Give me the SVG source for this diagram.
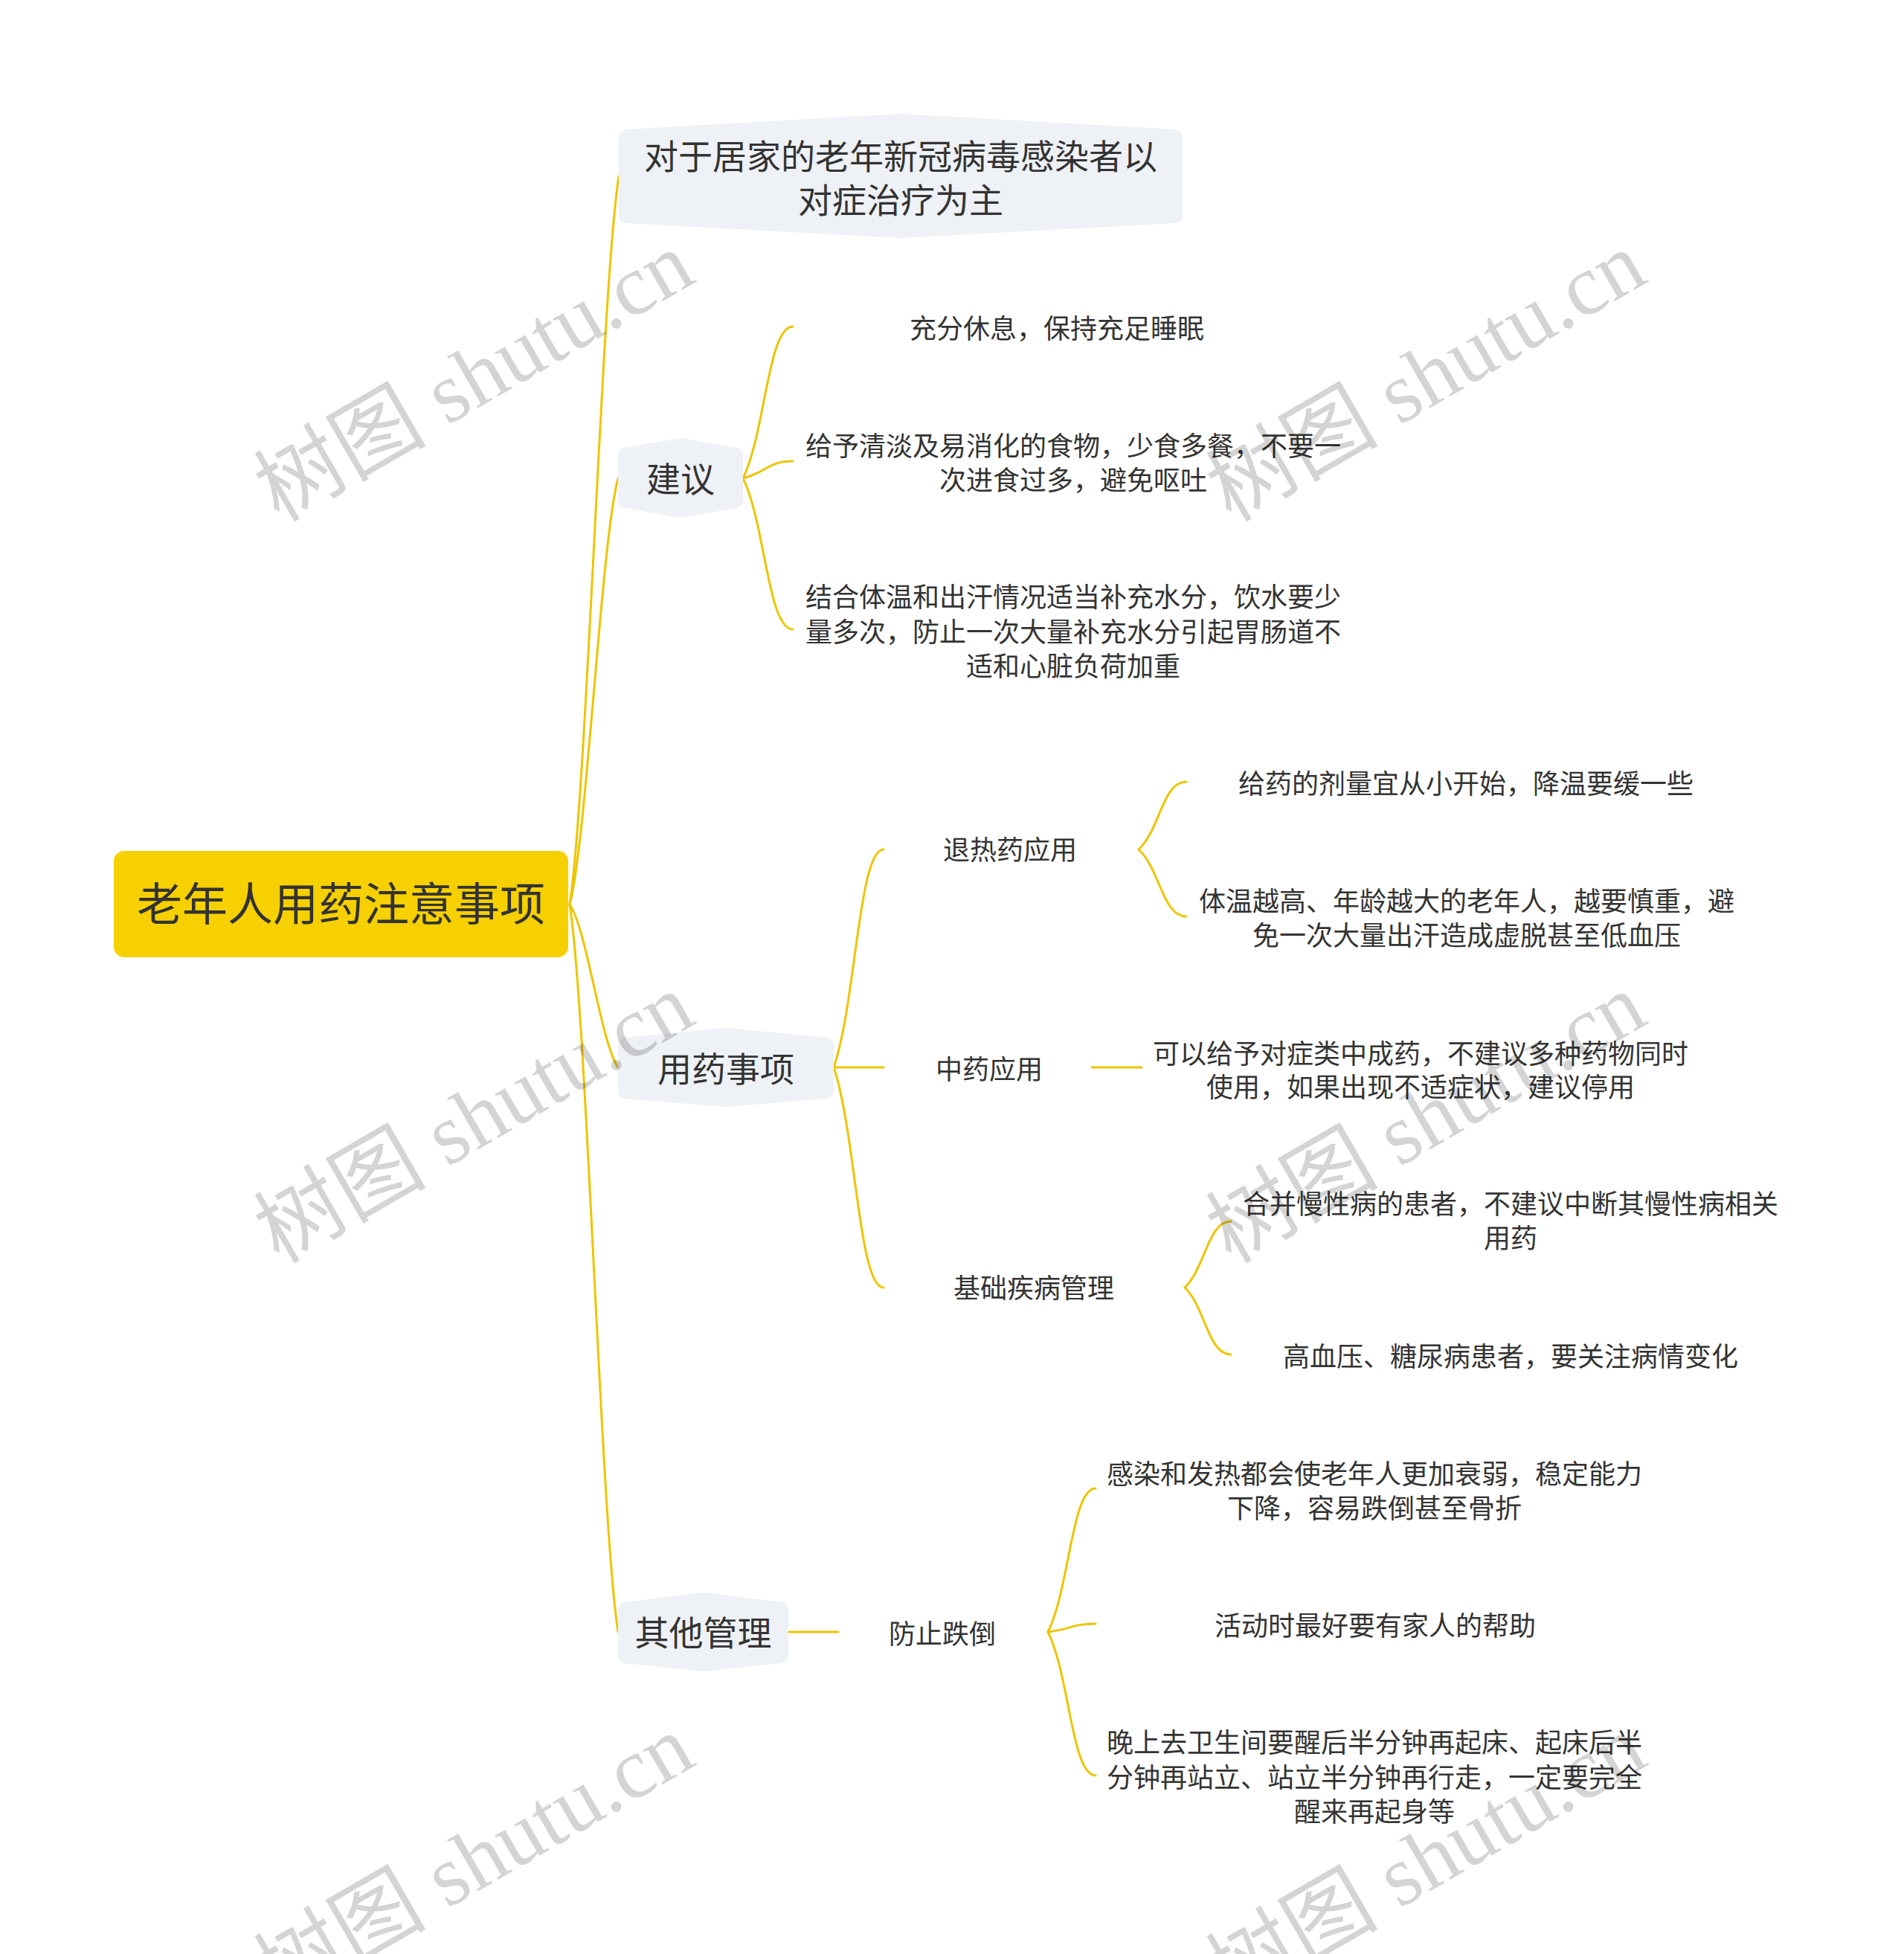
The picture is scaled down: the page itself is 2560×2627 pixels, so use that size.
<svg xmlns="http://www.w3.org/2000/svg" width="2560" height="2627" viewBox="0 0 2560 2627">
<style>
.t{font-family:"Noto Sans CJK SC","Noto Sans",sans-serif;fill:#333333;text-anchor:middle}
.f61{font-size:61px}
.f46{font-size:46px}
.f36{font-size:36px}
.hex{fill:#EEF1F5;stroke:#EEF1F5;stroke-width:20;stroke-linejoin:round}
.ln{fill:none;stroke:#EDC500;stroke-width:3;stroke-linecap:round}
.wm{font-family:"Liberation Serif","Noto Sans CJK SC",serif;font-size:116px;fill:#000000;fill-opacity:0.17}
</style>
<rect width="2560" height="2627" fill="#ffffff"/>
<g id="connectors">
<path class="ln" d="M766,1216 C789,1069 809,384 832,237"/>
<path class="ln" d="M766,1216 C789,1130 808,729 831,643"/>
<path class="ln" d="M766,1216 C789,1249 808,1402 831,1435"/>
<path class="ln" d="M766,1216 C789,1363 808,2047 831,2194"/>
<path class="ln" d="M999,643 C1029,582 1032.5,439 1066,439"/>
<path class="ln" d="M999,643 C1029,636 1032.5,620 1066,620"/>
<path class="ln" d="M999,643 C1029,704 1032.5,846 1066,846"/>
<path class="ln" d="M1121,1435 C1151,1347 1154.5,1142 1188,1142"/>
<path class="ln" d="M1121,1435 L1188,1435"/>
<path class="ln" d="M1121,1435 C1151,1524 1154.5,1731 1188,1731"/>
<path class="ln" d="M1531,1142 C1560,1115 1563,1051 1595,1051"/>
<path class="ln" d="M1531,1142 C1560,1169 1563,1232 1595,1232"/>
<path class="ln" d="M1468,1435 L1535,1435"/>
<path class="ln" d="M1593,1731 C1621,1704 1624,1642 1655,1642"/>
<path class="ln" d="M1593,1731 C1621,1758 1624,1821 1655,1821"/>
<path class="ln" d="M1060,2194 L1127,2194"/>
<path class="ln" d="M1409,2194 C1438,2136 1441,2001 1473,2001"/>
<path class="ln" d="M1409,2194 C1438,2191 1441,2183 1473,2183"/>
<path class="ln" d="M1409,2194 C1438,2252 1441,2387 1473,2387"/>
</g>
<g id="root">
<rect x="153" y="1144" width="611" height="143" rx="14" fill="#F6D000"/>
<text class="t f61" x="458.5" y="1238">老年人用药注意事项</text>
</g>
<g id="n1">
<polygon class="hex" points="842,184 1211,163 1580,184 1580,290 1211,310 842,290"/>
<text class="t f46" x="1211" y="226.5">对于居家的老年新冠病毒感染者以</text>
<text class="t f46" x="1211" y="285.5">对症治疗为主</text>
</g>
<g id="n2">
<polygon class="hex" points="841,612 915,599 989,612 989,673 915,686 841,673"/>
<text class="t f46" x="915" y="661">建议</text>
</g>
<g id="n2a"><text class="t f36" x="1421" y="455">充分休息，保持充足睡眠</text></g>
<g id="n2b">
<text class="t f36" x="1443" y="613">给予清淡及易消化的食物，少食多餐，不要一</text>
<text class="t f36" x="1443" y="659">次进食过多，避免呕吐</text>
</g>
<g id="n2c">
<text class="t f36" x="1443" y="816">结合体温和出汗情况适当补充水分，饮水要少</text>
<text class="t f36" x="1443" y="863">量多次，防止一次大量补充水分引起胃肠道不</text>
<text class="t f36" x="1443" y="909">适和心脏负荷加重</text>
</g>
<g id="n3">
<polygon class="hex" points="841,1405 976,1392 1111,1405 1111,1467 976,1478 841,1467"/>
<text class="t f46" x="976" y="1453.5">用药事项</text>
</g>
<g id="n3a"><text class="t f36" x="1358" y="1156">退热药应用</text></g>
<g id="n3a1"><text class="t f36" x="1971" y="1067">给药的剂量宜从小开始，降温要缓一些</text></g>
<g id="n3a2">
<text class="t f36" x="1972" y="1225">体温越高、年龄越大的老年人，越要慎重，避</text>
<text class="t f36" x="1972" y="1271">免一次大量出汗造成虚脱甚至低血压</text>
</g>
<g id="n3b"><text class="t f36" x="1330" y="1451">中药应用</text></g>
<g id="n3b1">
<text class="t f36" x="1910" y="1430">可以给予对症类中成药，不建议多种药物同时</text>
<text class="t f36" x="1910" y="1475">使用，如果出现不适症状，建议停用</text>
</g>
<g id="n3c"><text class="t f36" x="1390" y="1745">基础疾病管理</text></g>
<g id="n3c1">
<text class="t f36" x="2031" y="1632">合并慢性病的患者，不建议中断其慢性病相关</text>
<text class="t f36" x="2031" y="1678">用药</text>
</g>
<g id="n3c2"><text class="t f36" x="2031" y="1837">高血压、糖尿病患者，要关注病情变化</text></g>
<g id="n4">
<polygon class="hex" points="841,2164 945.5,2151 1050,2164 1050,2226 945.5,2237 841,2226"/>
<text class="t f46" x="945.5" y="2211.5">其他管理</text>
</g>
<g id="n4a"><text class="t f36" x="1267" y="2210">防止跌倒</text></g>
<g id="n4a1">
<text class="t f36" x="1848" y="1995">感染和发热都会使老年人更加衰弱，稳定能力</text>
<text class="t f36" x="1848" y="2041">下降，容易跌倒甚至骨折</text>
</g>
<g id="n4a2"><text class="t f36" x="1849" y="2199">活动时最好要有家人的帮助</text></g>
<g id="n4a3">
<text class="t f36" x="1848" y="2356">晚上去卫生间要醒后半分钟再起床、起床后半</text>
<text class="t f36" x="1848" y="2403">分钟再站立、站立半分钟再行走，一定要完全</text>
<text class="t f36" x="1848" y="2449">醒来再起身等</text>
</g>
<g id="watermarks">
<text class="wm" transform="translate(375,703) rotate(-30)">树图 shutu.cn</text>
<text class="wm" transform="translate(1655,703) rotate(-30)">树图 shutu.cn</text>
<text class="wm" transform="translate(375,1700) rotate(-30)">树图 shutu.cn</text>
<text class="wm" transform="translate(1655,1700) rotate(-30)">树图 shutu.cn</text>
<text class="wm" transform="translate(375,2697) rotate(-30)">树图 shutu.cn</text>
<text class="wm" transform="translate(1655,2697) rotate(-30)">树图 shutu.cn</text>
</g>
</svg>
